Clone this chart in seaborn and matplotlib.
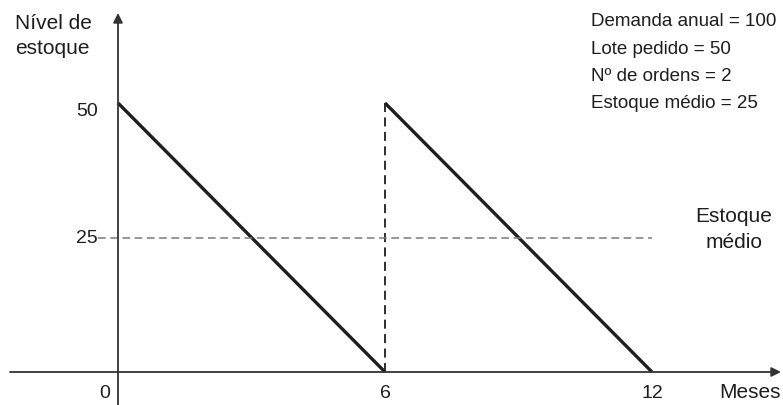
import matplotlib
matplotlib.use("Agg")
import matplotlib.pyplot as plt
import seaborn as sns
import pandas as pd

# Inventory sawtooth: two replenishment cycles over a year
cycle_start = [0, 6]
cycle_end = [6, 12]
lot_size = 50
average_stock = 25
x_ticks = [0, 6, 12]
y_ticks = [50, 25]
info_lines = ["Demanda anual = 100", "Lote pedido = 50", "Nº de ordens = 2", "Estoque médio = 25"]

sns.set_theme(style="white")
plt.rcParams["font.family"] = ["Liberation Sans", "DejaVu Sans"]

fig = plt.figure(figsize=(7.83, 4.05), dpi=100)
ax = fig.add_axes([0, 0, 1, 1])
px_x = 44.5   # pixels per month
px_y = 269 / 50  # pixels per unit of stock
x0, y0 = 118, 372  # origin in pixels (from top-left)
ax.set_xlim(-x0 / px_x, (783 - x0) / px_x)
ax.set_ylim(-(405 - y0) / px_y, y0 / px_y)
ax.axis("off")


def py(pix):
    """Convert a pixel row (from top) to a stock value."""
    return (y0 - pix) / px_y


def pxx(pix):
    """Convert a pixel column to a month value."""
    return (pix - x0) / px_x


ink = "#1e1e1e"
xmin, xmax = ax.get_xlim()
ymin, ymax = ax.get_ylim()

# axes with arrows
ax.annotate("", xy=(pxx(781), 0), xytext=(pxx(10), 0),
            arrowprops=dict(arrowstyle="-|>", color="#333333", lw=1.3,
                            mutation_scale=14, shrinkA=0, shrinkB=0))
ax.annotate("", xy=(0, py(13)), xytext=(0, ymin),
            arrowprops=dict(arrowstyle="-|>", color="#333333", lw=1.3,
                            mutation_scale=14, shrinkA=0, shrinkB=0))

# sawtooth segments
for s, e in zip(cycle_start, cycle_end):
    seg = pd.DataFrame({"mes": [s, e], "estoque": [lot_size, 0]})
    sns.lineplot(data=seg, x="mes", y="estoque", ax=ax, color=ink, lw=2.4,
                 estimator=None, sort=False, solid_capstyle="butt")

# replenishment (dashed vertical) at the second order
for s in cycle_start[1:]:
    vert = pd.DataFrame({"mes": [s, s], "estoque": [0, lot_size]})
    sns.lineplot(data=vert, x="mes", y="estoque", ax=ax, color=ink, lw=1.3,
                 estimator=None, sort=False, linestyle=(0, (5, 3)))

# average stock level
avg = pd.DataFrame({"mes": [pxx(98), cycle_end[-1]], "estoque": [average_stock] * 2})
sns.lineplot(data=avg, x="mes", y="estoque", ax=ax, color="#7a7a7a", lw=1.1,
             estimator=None, sort=False, linestyle=(0, (5, 3)))

fs = 13.5
fs_lab = 15
# tick labels
for t in x_ticks:
    ax.text(t - (13 / px_x if t == 0 else 0), py(393), str(t), ha="center", va="center",
            fontsize=14, color=ink)
ax.text(pxx(98), py(111), str(y_ticks[0]), ha="right", va="center", fontsize=14, color=ink)
ax.text(pxx(98), py(238), str(y_ticks[1]), ha="right", va="center", fontsize=14, color=ink)

ax.text(pxx(781), py(393), "Meses", ha="right", va="center", fontsize=fs_lab, color=ink)
ax.text(pxx(15), py(36), "Nível de\nestoque", ha="left", va="center",
        fontsize=fs_lab, color=ink, linespacing=1.45)

# info block
for i, line in enumerate(info_lines):
    ax.text(pxx(591), py(22 + 27.3 * i), line, ha="left", va="center",
            fontsize=fs, color=ink)

ax.text(pxx(734), py(229.5), "Estoque\nmédio", ha="center", va="center",
        fontsize=fs_lab, color=ink, linespacing=1.45)

fig.savefig("out.png", dpi=100)
